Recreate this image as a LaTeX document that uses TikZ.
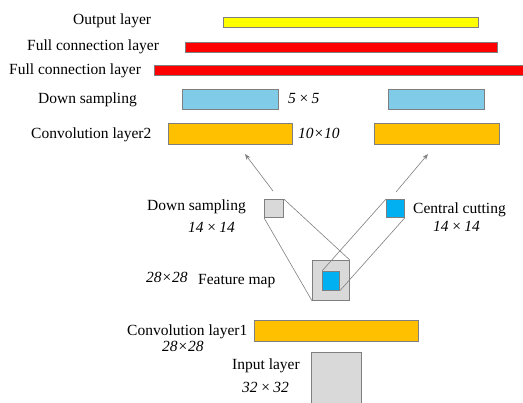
\documentclass[tikz,border=0pt]{standalone}
\usepackage{fontspec}
\setmainfont{Liberation Serif}
\usetikzlibrary{arrows.meta}
\definecolor{barYellow}{HTML}{FFFF00}
\definecolor{barRed}{HTML}{FF0000}
\definecolor{poolBlue}{HTML}{7FCBE8}
\definecolor{convOrange}{HTML}{FFC000}
\definecolor{mapGray}{HTML}{D9D9D9}
\definecolor{cutBlue}{HTML}{00B0F0}
\definecolor{edgeGray}{HTML}{7F7F7F}
\tikzset{
  blk/.style={draw=edgeGray, line width=0.8pt, inner sep=0pt, anchor=north west},
  lbl/.style={inner sep=0pt, anchor=base west, font=\fontsize{15.5}{18}\selectfont},
  dim/.style={lbl, font=\fontsize{15.5}{18}\selectfont\itshape},
  link/.style={draw=edgeGray, line width=0.6pt},
  flow/.style={link, -{Stealth[length=6pt,width=4.5pt]}}
}
\begin{document}
\begin{tikzpicture}[x=1pt,y=-1pt]
\useasboundingbox (0,0) rectangle (523,403);
\clip (0,0) rectangle (523,403);
% layer bars
\node[blk, fill=barYellow, minimum width=255pt, minimum height=10pt] (out) at (223,17) {};
\node[blk, fill=barRed, minimum width=312pt, minimum height=10pt] (fc1) at (185,42) {};
\node[blk, fill=barRed, minimum width=372pt, minimum height=10pt] (fc2) at (154,65) {};
\node[blk, fill=poolBlue, minimum width=96pt, minimum height=20pt] (dsL) at (182,89) {};
\node[blk, fill=poolBlue, minimum width=96pt, minimum height=20pt] (dsR) at (388,89) {};
\node[blk, fill=convOrange, minimum width=124pt, minimum height=21pt] (c2L) at (168,123) {};
\node[blk, fill=convOrange, minimum width=125pt, minimum height=21pt] (c2R) at (374,123) {};
% feature map and its two branches
\node[blk, fill=mapGray, minimum width=19pt, minimum height=18pt] (ds) at (264,199) {};
\node[blk, fill=cutBlue, minimum width=18pt, minimum height=18pt] (cc) at (386,199) {};
\node[blk, fill=mapGray, minimum width=37pt, minimum height=40pt] (fm) at (312,260) {};
\node[blk, fill=cutBlue, minimum width=17pt, minimum height=19pt] (fmc) at (322,271) {};
\node[blk, fill=convOrange, minimum width=164pt, minimum height=21pt] (c1) at (254,320) {};
\node[blk, fill=mapGray, minimum width=50pt, minimum height=60pt] (in) at (311,352) {};
% projections
\draw[link] (ds.south west) -- (fm.south west);
\draw[link] (ds.north east) -- (fm.north east);
\draw[link] (cc.north west) -- (fmc.north west);
\draw[link] (cc.south east) -- (fmc.south east);
% arrows up to the second convolution
\coordinate (aL0) at (273,191);
\coordinate (aL1) at (245,154);
\coordinate (aR0) at (396,192);
\coordinate (aR1) at (428,154);
\draw[flow] (aL0) -- (aL1);
\draw[flow] (aR0) -- (aR1);
% labels
\node[lbl] (tOut) at (73,25) {Output layer};
\node[lbl] (tFc1) at (27,51) {Full connection layer};
\node[lbl] (tFc2) at (9,75) {Full connection layer};
\node[lbl] (tDs) at (38,104) {Down sampling};
\node[dim] (t55) at (288,104) {5\,×\,5};
\node[lbl] (tC2) at (31,139) {Convolution layer2};
\node[dim] (t1010) at (298,139) {10×10};
\node[lbl] (tDs2) at (147,211) {Down sampling};
\node[dim] (t1414a) at (188,233) {14\,×\,14};
\node[lbl] (tCc) at (413,214) {Central cutting};
\node[dim] (t1414b) at (433,232) {14\,×\,14};
\node[dim] (t2828a) at (146,283) {28×28};
\node[lbl] (tFm) at (198,285) {Feature map};
\node[lbl] (tC1) at (127,336) {Convolution layer1};
\node[dim] (t2828b) at (162,352) {28×28};
\node[lbl] (tIn) at (232,370) {Input layer};
\node[dim] (t3232) at (242,393) {32\,×\,32};
\end{tikzpicture}
\end{document}
